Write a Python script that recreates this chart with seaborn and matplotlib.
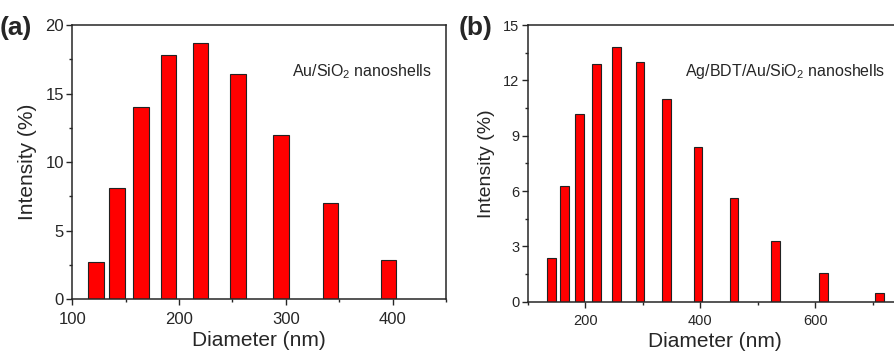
import matplotlib
matplotlib.use("Agg")
import matplotlib.pyplot as plt
from matplotlib.ticker import MultipleLocator
import numpy as np
import pandas as pd
import seaborn as sns

# DLS size bins (nm) and intensities (%)
diam_a = [122.4, 141.8, 164.2, 190.1, 220.2, 255.0, 295.3, 342.0, 396.1]
inten_a = [2.7, 8.1, 14.0, 17.8, 18.7, 16.4, 12.0, 7.0, 2.9]

diam_b = [141.8, 164.2, 190.1, 220.2, 255.0, 295.3, 342.0, 396.1, 458.7, 531.2, 615.1, 712.4]
inten_b = [2.4, 6.3, 10.2, 12.9, 13.8, 13.0, 11.0, 8.4, 5.6, 3.3, 1.55, 0.5]

sns.set_style("ticks")
plt.rcParams['font.family'] = ['Liberation Sans', 'DejaVu Sans']
plt.rcParams['mathtext.fontset'] = 'custom'
plt.rcParams['mathtext.rm'] = 'Liberation Sans'

fig = plt.figure(figsize=(8.95, 3.53), dpi=100)
ax1 = fig.add_axes([0.0808, 0.152, 0.4175, 0.777])
ax2 = fig.add_axes([0.5896, 0.145, 0.4175, 0.784])


def draw(ax, diam, inten, width, tsize, ysize):
    df = pd.DataFrame({"diameter": diam, "intensity": inten})
    sns.barplot(ax=ax, data=df, x="diameter", y="intensity", native_scale=True,
                width=width, color="#ff0000", saturation=1,
                edgecolor="#222222", linewidth=0.8)
    ax.set_xlabel("Diameter (nm)", fontsize=15, labelpad=3)
    ax.set_ylabel("Intensity (%)", fontsize=ysize, labelpad=6)
    ax.tick_params(axis="both", which="major", direction="out", length=4,
                   width=1, labelsize=tsize, pad=2)
    ax.tick_params(axis="x", which="major", pad=5)
    ax.tick_params(axis="both", which="minor", direction="out", length=2.5, width=1)
    for s in ax.spines.values():
        s.set_linewidth(1.1)
        s.set_visible(True)


draw(ax1, diam_a, inten_a, 0.75, 12, 15)
ax1.set_xlim(100, 450)
ax1.set_ylim(0, 20)
ax1.xaxis.set_major_locator(MultipleLocator(100))
ax1.xaxis.set_minor_locator(MultipleLocator(50))
ax1.yaxis.set_major_locator(MultipleLocator(5))
ax1.yaxis.set_minor_locator(MultipleLocator(2.5))
ax1.text(0.587, 0.814, r"Au/SiO$_2$ nanoshells", transform=ax1.transAxes, fontsize=11.5)
fig.text(0.0, 0.9, "(a)", fontsize=19, fontweight="bold")

draw(ax2, diam_b, inten_b, 0.67, 10.5, 14)
ax2.set_xlim(100, 750)
ax2.set_ylim(0, 15)
ax2.xaxis.set_major_locator(MultipleLocator(200))
ax2.xaxis.set_minor_locator(MultipleLocator(100))
ax2.yaxis.set_major_locator(MultipleLocator(3))
ax2.yaxis.set_minor_locator(MultipleLocator(1.5))
ax2.text(0.421, 0.816, r"Ag/BDT/Au/SiO$_2$ nanoshells", transform=ax2.transAxes, fontsize=11.5)
fig.text(0.512, 0.9, "(b)", fontsize=19, fontweight="bold")

fig.savefig("out.png", dpi=100)
